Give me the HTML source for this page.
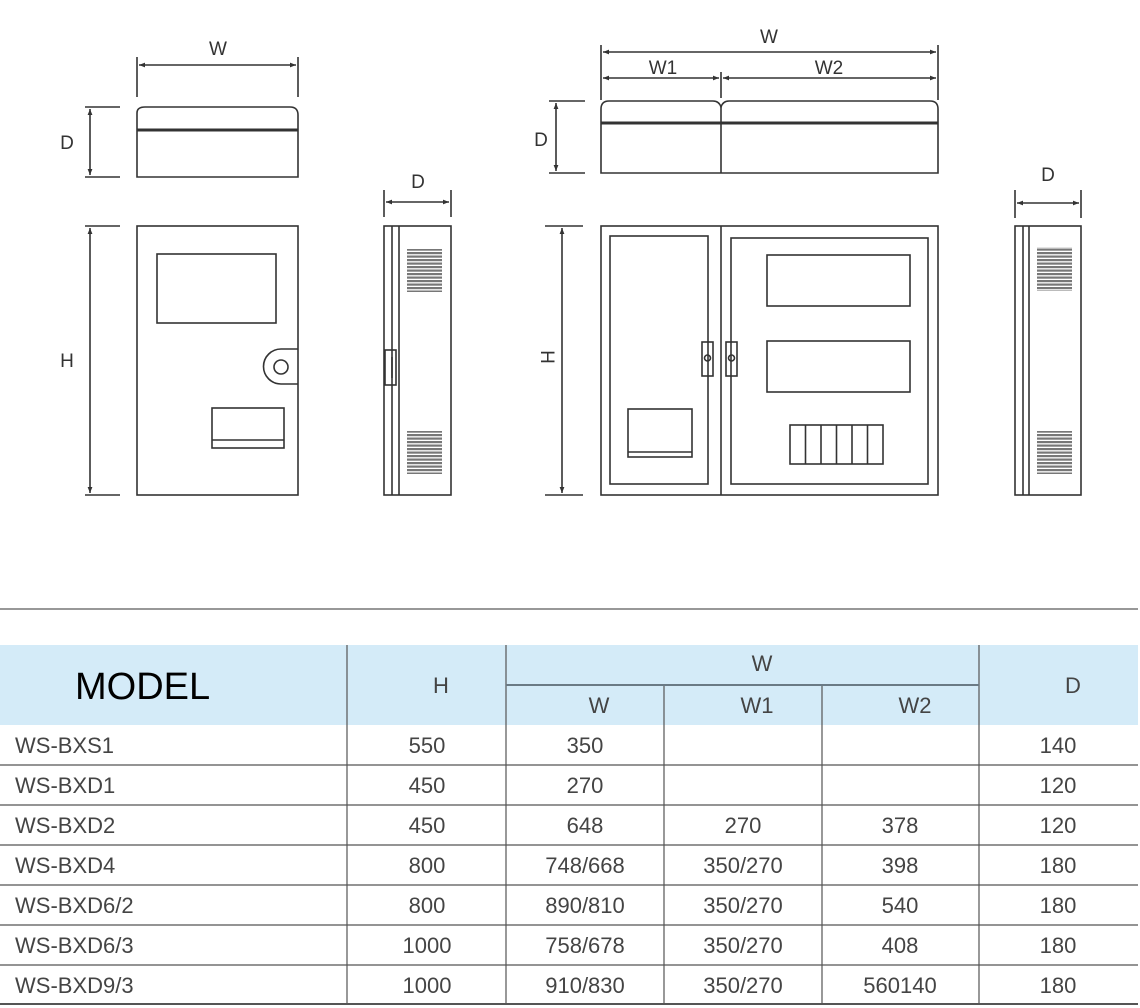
<!DOCTYPE html>
<html><head><meta charset="utf-8"><style>
html,body{margin:0;padding:0;background:#fff;}
svg{display:block;}
.l{fill:none;stroke:#333;stroke-width:1.6;}
.t{font-family:"Liberation Sans",sans-serif;fill:#333;font-size:19px;text-anchor:middle;}
.tb{font-family:"Liberation Sans",sans-serif;fill:#444;font-size:22px;}
</style></head><body>
<svg width="1140" height="1008" viewBox="0 0 1140 1008" xmlns="http://www.w3.org/2000/svg">
<defs>
<marker id="a" viewBox="0 0 10 10" refX="10" refY="5" markerWidth="9" markerHeight="6" orient="auto-start-reverse" markerUnits="userSpaceOnUse"><path d="M0,1 L10,5 L0,9 z" fill="#333"/></marker>
<pattern id="v" width="10" height="3.5" patternUnits="userSpaceOnUse"><rect width="10" height="2.2" fill="#777"/></pattern>
</defs>

<!-- LEFT: top view -->
<text class="t" x="218" y="55">W</text>
<line class="l" x1="137" y1="57" x2="137" y2="97"/><line class="l" x1="298" y1="57" x2="298" y2="97"/>
<line class="l" x1="139" y1="65" x2="296" y2="65" marker-start="url(#a)" marker-end="url(#a)"/>
<path class="l" d="M137,177 L137,113 Q137,107 145,107 L290,107 Q298,107 298,115 L298,177 Z"/>
<line x1="137" y1="130" x2="298" y2="130" stroke="#333" stroke-width="3"/>
<text class="t" x="67" y="149">D</text>
<line class="l" x1="85" y1="107" x2="120" y2="107"/><line class="l" x1="85" y1="177" x2="120" y2="177"/>
<line class="l" x1="90" y1="109" x2="90" y2="175" marker-start="url(#a)" marker-end="url(#a)"/>

<!-- LEFT: front view -->
<rect class="l" x="137" y="226" width="161" height="269"/>
<rect class="l" x="157" y="254" width="119" height="69"/>
<path class="l" d="M298,349 L281,349 A17.5,17.5 0 0 0 281,384 L298,384"/>
<circle class="l" cx="281" cy="367" r="7"/>
<rect class="l" x="212" y="408" width="72" height="40"/>
<line class="l" x1="212" y1="440" x2="284" y2="440"/>
<text class="t" x="67" y="367">H</text>
<line class="l" x1="85" y1="226" x2="120" y2="226"/><line class="l" x1="85" y1="495" x2="120" y2="495"/>
<line class="l" x1="90" y1="228" x2="90" y2="493" marker-start="url(#a)" marker-end="url(#a)"/>

<!-- LEFT: side view -->
<text class="t" x="418" y="188">D</text>
<line class="l" x1="384" y1="190" x2="384" y2="217"/><line class="l" x1="451" y1="190" x2="451" y2="217"/>
<line class="l" x1="386" y1="202" x2="449" y2="202" marker-start="url(#a)" marker-end="url(#a)"/>
<rect class="l" x="384" y="226" width="67" height="269"/>
<line class="l" x1="392" y1="226" x2="392" y2="495"/><line class="l" x1="399" y1="226" x2="399" y2="495"/>
<rect x="407" y="249" width="35" height="43" fill="url(#v)"/>
<rect x="407" y="431" width="35" height="43" fill="url(#v)"/>
<rect class="l" x="385" y="350" width="11" height="35" fill="#fff"/>
<line class="l" x1="392" y1="357" x2="392" y2="378"/>

<!-- RIGHT: top view -->
<text class="t" x="769" y="43">W</text>
<text class="t" x="663" y="74">W1</text>
<text class="t" x="829" y="74">W2</text>
<line class="l" x1="601" y1="45" x2="601" y2="100"/><line class="l" x1="938" y1="45" x2="938" y2="100"/>
<line class="l" x1="721" y1="72" x2="721" y2="98"/>
<line class="l" x1="603" y1="52" x2="936" y2="52" marker-start="url(#a)" marker-end="url(#a)"/>
<line class="l" x1="603" y1="78" x2="719" y2="78" marker-start="url(#a)" marker-end="url(#a)"/>
<line class="l" x1="723" y1="78" x2="936" y2="78" marker-start="url(#a)" marker-end="url(#a)"/>
<path class="l" d="M601,173 L601,109 Q601,101 609,101 L713,101 Q719,101 721,107 Q723,101 729,101 L930,101 Q938,101 938,109 L938,173 Z"/>
<line class="l" x1="721" y1="107" x2="721" y2="173"/>
<line x1="601" y1="123" x2="938" y2="123" stroke="#333" stroke-width="3"/>
<text class="t" x="541" y="146">D</text>
<line class="l" x1="549" y1="101" x2="585" y2="101"/><line class="l" x1="549" y1="173" x2="585" y2="173"/>
<line class="l" x1="556" y1="103" x2="556" y2="171" marker-start="url(#a)" marker-end="url(#a)"/>

<!-- RIGHT: front view -->
<rect class="l" x="601" y="226" width="337" height="269"/>
<line class="l" x1="721" y1="226" x2="721" y2="495"/>
<rect class="l" x="610" y="236" width="98" height="248"/>
<rect class="l" x="731" y="238" width="197" height="246"/>
<rect class="l" x="767" y="255" width="143" height="51"/>
<rect class="l" x="767" y="341" width="143" height="51"/>
<rect class="l" x="628" y="409" width="64" height="48"/>
<line class="l" x1="628" y1="452" x2="692" y2="452"/>
<rect class="l" x="790" y="425" width="93" height="39"/>
<line class="l" x1="805.5" y1="425" x2="805.5" y2="464"/><line class="l" x1="821" y1="425" x2="821" y2="464"/>
<line class="l" x1="836.5" y1="425" x2="836.5" y2="464"/><line class="l" x1="852" y1="425" x2="852" y2="464"/>
<line class="l" x1="867.5" y1="425" x2="867.5" y2="464"/>
<rect class="l" x="702" y="342" width="11" height="34" fill="#fff"/><circle class="l" cx="707.5" cy="358" r="3"/>
<rect class="l" x="726" y="342" width="11" height="34" fill="#fff"/><circle class="l" cx="731.5" cy="358" r="3"/>
<text class="t" x="0" y="0" transform="translate(541,357) rotate(90)">H</text>
<line class="l" x1="545" y1="226" x2="583" y2="226"/><line class="l" x1="545" y1="495" x2="583" y2="495"/>
<line class="l" x1="562" y1="228" x2="562" y2="493" marker-start="url(#a)" marker-end="url(#a)"/>

<!-- RIGHT: side view -->
<text class="t" x="1048" y="181">D</text>
<line class="l" x1="1015" y1="190" x2="1015" y2="218"/><line class="l" x1="1081" y1="190" x2="1081" y2="218"/>
<line class="l" x1="1017" y1="203" x2="1079" y2="203" marker-start="url(#a)" marker-end="url(#a)"/>
<rect class="l" x="1015" y="226" width="66" height="269"/>
<line class="l" x1="1023" y1="226" x2="1023" y2="495"/><line class="l" x1="1029" y1="226" x2="1029" y2="495"/>
<rect x="1037" y="247" width="35" height="44" fill="url(#v)"/>
<rect x="1037" y="431" width="35" height="43" fill="url(#v)"/>

<!-- TABLE -->
<line x1="0" y1="609" x2="1138" y2="609" stroke="#777" stroke-width="1.5"/>
<rect x="0" y="645" width="1138" height="80" fill="#d4ebf8"/>
<g stroke="#555" stroke-width="1.2">
<line x1="347" y1="645" x2="347" y2="1004"/>
<line x1="506" y1="645" x2="506" y2="1004"/>
<line x1="664" y1="685" x2="664" y2="1004"/>
<line x1="822" y1="685" x2="822" y2="1004"/>
<line x1="979" y1="645" x2="979" y2="1004"/>
<line x1="506" y1="685" x2="979" y2="685" stroke="#6a7a85" stroke-width="2"/>
<line x1="0" y1="765" x2="1138" y2="765"/>
<line x1="0" y1="805" x2="1138" y2="805"/>
<line x1="0" y1="845" x2="1138" y2="845"/>
<line x1="0" y1="885" x2="1138" y2="885"/>
<line x1="0" y1="925" x2="1138" y2="925"/>
<line x1="0" y1="965" x2="1138" y2="965"/>
<line x1="0" y1="1004" x2="1138" y2="1004" stroke-width="2"/>
</g>
<text x="75" y="699" font-family="Liberation Sans,sans-serif" font-size="38" fill="#000">MODEL</text>
<g class="tb" text-anchor="middle">
<text x="441" y="693">H</text>
<text x="762" y="671">W</text>
<text x="599" y="713">W</text>
<text x="757" y="713">W1</text>
<text x="915" y="713">W2</text>
<text x="1073" y="693">D</text>
</g>
<g class="tb">
<text x="15" y="753">WS-BXS1</text>
<text x="15" y="793">WS-BXD1</text>
<text x="15" y="833">WS-BXD2</text>
<text x="15" y="873">WS-BXD4</text>
<text x="15" y="913">WS-BXD6/2</text>
<text x="15" y="953">WS-BXD6/3</text>
<text x="15" y="993">WS-BXD9/3</text>
</g>
<g class="tb" text-anchor="middle">
<text x="427" y="753">550</text><text x="585" y="753">350</text><text x="1058" y="753">140</text>
<text x="427" y="793">450</text><text x="585" y="793">270</text><text x="1058" y="793">120</text>
<text x="427" y="833">450</text><text x="585" y="833">648</text><text x="743" y="833">270</text><text x="900" y="833">378</text><text x="1058" y="833">120</text>
<text x="427" y="873">800</text><text x="585" y="873">748/668</text><text x="743" y="873">350/270</text><text x="900" y="873">398</text><text x="1058" y="873">180</text>
<text x="427" y="913">800</text><text x="585" y="913">890/810</text><text x="743" y="913">350/270</text><text x="900" y="913">540</text><text x="1058" y="913">180</text>
<text x="427" y="953">1000</text><text x="585" y="953">758/678</text><text x="743" y="953">350/270</text><text x="900" y="953">408</text><text x="1058" y="953">180</text>
<text x="427" y="993">1000</text><text x="585" y="993">910/830</text><text x="743" y="993">350/270</text><text x="900" y="993">560140</text><text x="1058" y="993">180</text>
</g>
</svg>
</body></html>
